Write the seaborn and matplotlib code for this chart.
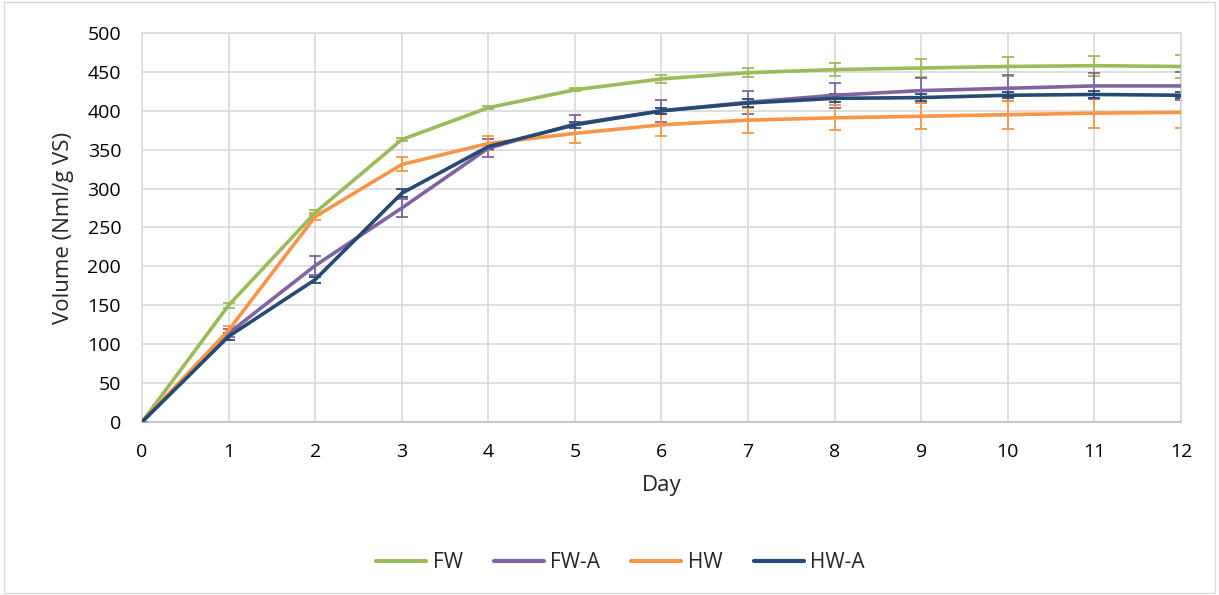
import matplotlib
matplotlib.use("Agg")
import matplotlib.pyplot as plt
import seaborn as sns
import pandas as pd
from matplotlib.patches import Rectangle

# data
days = list(range(13))
series_names = ["FW", "FW-A", "HW", "HW-A"]
fw = [0, 150, 269, 363, 404, 427, 441, 449, 453, 455, 457, 458, 457]
fw_err = [0, 3, 3, 2, 2, 2, 5, 6, 8, 11, 12, 13, 15]
fw_a = [0, 114, 201, 275, 352, 383, 400, 411, 420, 426, 429, 432, 432]
fw_a_err = [0, 5, 12, 12, 12, 12, 14, 15, 16, 16, 17, 17, 18]
hw = [0, 118, 264, 331, 358, 371, 382, 388, 391, 393, 395, 397, 398]
hw_err = [0, 5, 4, 9, 9, 12, 14, 16, 16, 17, 18, 19, 20]
hw_a = [0, 110, 183, 294, 354, 382, 400, 410, 416, 417, 420, 421, 420]
hw_a_err = [0, 4, 4, 5, 3, 4, 4, 5, 5, 5, 4, 4, 4]

colors = ["#9BBB59", "#8064A2", "#F79646", "#264A74"]

values = [fw, fw_a, hw, hw_a]
errors = [fw_err, fw_a_err, hw_err, hw_a_err]

df = pd.DataFrame({
    "Day": days * 4,
    "Volume": fw + fw_a + hw + hw_a,
    "Series": sum([[n] * len(days) for n in series_names], []),
})

sns.set_theme(style="white")
plt.rcParams["font.family"] = ["Open Sans", "DejaVu Sans"]

fig, ax = plt.subplots(figsize=(12.19, 5.95), dpi=100)
fig.subplots_adjust(left=0.1165, right=0.9688, top=0.9445, bottom=0.2908)

# error bars first, lines on top
for vals, errs, c in zip(values, errors, colors):
    ax.errorbar(days, vals, yerr=errs, fmt="none", ecolor=c, elinewidth=1.3,
                capsize=4, capthick=1.3, zorder=2)

sns.lineplot(data=df, x="Day", y="Volume", hue="Series", palette=colors,
             linewidth=2.6, ax=ax, legend=True, zorder=3)

ax.set_xlim(0, 12)
ax.set_ylim(0, 500)
ax.set_xticks(range(0, 13))
ax.set_yticks(range(0, 501, 50))
ax.grid(True, color="#D9D9D9", linewidth=1.2)
ax.set_axisbelow(True)
for s in ax.spines.values():
    s.set_color("#D9D9D9")
    s.set_linewidth(1.2)
ax.spines["bottom"].set_color("#BFBFBF")
ax.tick_params(axis="both", length=0, labelsize=14, colors="#000000", pad=15)
ax.set_xlabel("Day", fontsize=16, labelpad=10)
ax.set_ylabel("Volume (Nml/g VS)", fontsize=16, labelpad=10)

handles, labels = ax.get_legend_handles_labels()
ax.get_legend().remove()
for h in handles:
    h.set_linewidth(3)
    h.set_solid_capstyle("round")
fig.legend(handles, labels, loc="center", bbox_to_anchor=(0.509, 0.054), ncol=4,
           frameon=False, fontsize=15, handlelength=2.4, columnspacing=1.5,
           handletextpad=0.3)

fig.patches.append(Rectangle((0.003, 0.003), 0.994, 0.994, transform=fig.transFigure,
                             fill=False, edgecolor="#D9D9D9", linewidth=1))

fig.savefig("out.png", dpi=100)
